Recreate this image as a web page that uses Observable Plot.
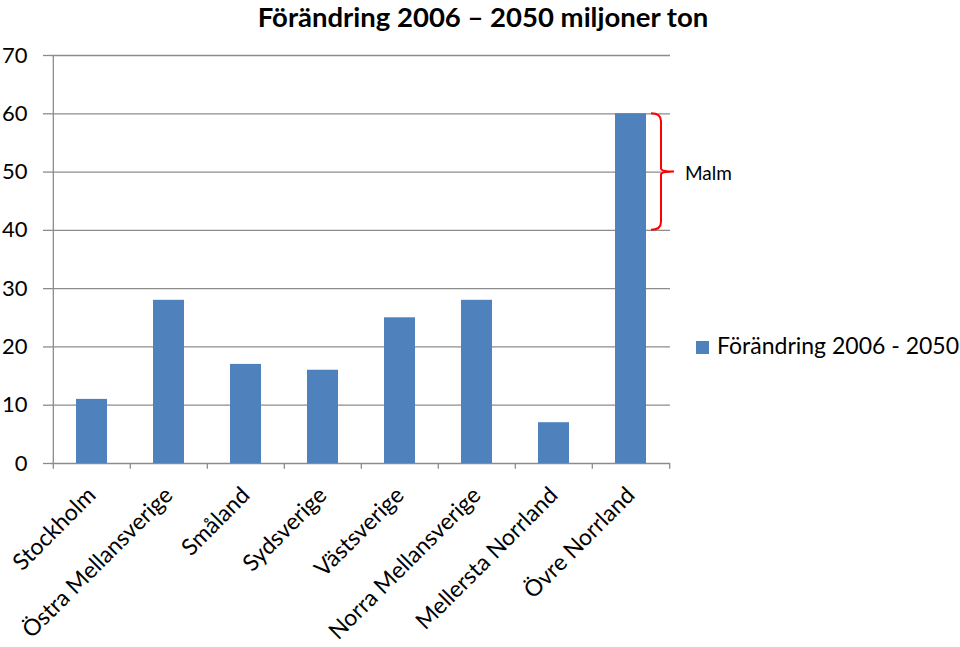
<!DOCTYPE html>
<html><head><meta charset="utf-8">
<script src="https://cdn.jsdelivr.net/npm/d3@7"></script>
<script src="https://cdn.jsdelivr.net/npm/@observablehq/plot@0.6"></script>
<style>
body{margin:0;background:#fff;font-family:Lato,"Open Sans",sans-serif;}
#wrap{position:relative;width:960px;height:647px;overflow:hidden;}
#title{height:34px;line-height:34px;text-align:center;font-weight:bold;font-size:27.5px;color:#000;padding-left:6px;box-sizing:border-box;width:960px;}
#legend{position:absolute;left:696px;top:331px;font-size:23px;line-height:28px;color:#000;white-space:nowrap;}
#legend span.sw{display:inline-block;width:13px;height:13px;background:#4F81BD;margin-right:8px;vertical-align:0px;}
</style></head><body>
<div id="wrap">
<div id="title"></div>
<div id="chart"></div>
<div id="legend"></div>
</div>
<script>
const titleText = "Förändring 2006 – 2050 miljoner ton";
const regions = ["Stockholm","Östra Mellansverige","Småland","Sydsverige","Västsverige","Norra Mellansverige","Mellersta Norrland","Övre Norrland"];
const values = [11, 28, 17, 16, 25, 28, 7, 60];
const yTicks = [0, 10, 20, 30, 40, 50, 60, 70];
const seriesName = "Förändring 2006 - 2050";
const bracketLabel = "Malm";
const bracketRange = [40, 60];
const bracketRegion = "Övre Norrland";

const data = regions.map((r, i) => ({region: r, value: values[i]}));
const W = 960, H = 613, mL = 51, mR = 290, mT = 21, mB = 184;
const halfStep = (W - mL - mR) / regions.length / 2;
const gray = "#8c8c8c";

document.getElementById("title").textContent = titleText;
document.getElementById("legend").innerHTML = '<span class="sw"></span>' + seriesName;

const chart = Plot.plot({
  width: W, height: H, marginLeft: mL, marginRight: mR, marginTop: mT, marginBottom: mB,
  style: {fontFamily: "Lato, 'Open Sans', sans-serif", fontSize: "20px", color: "#000", background: "#fff", overflow: "visible"},
  x: {domain: regions, paddingInner: 0.6, paddingOuter: 0.3, label: null},
  y: {domain: [0, 70], label: null},
  marks: [
    Plot.gridY(yTicks, {stroke: gray, strokeOpacity: 1, strokeWidth: 1.3}),
    Plot.axisY(yTicks, {tickSize: 8, tickPadding: 16, stroke: gray, strokeWidth: 1.3, fill: "#000", fontSize: 22, label: null}),
    Plot.ruleX([regions[0]], {y1: 0, y2: 70, dx: -halfStep, stroke: gray, strokeWidth: 1.3}),
    Plot.ruleX(regions, {y1: 0, y2: -1, dx: -halfStep, stroke: gray, strokeWidth: 1.3}),
    Plot.ruleX([regions[regions.length - 1]], {y1: 0, y2: -1, dx: halfStep, stroke: gray, strokeWidth: 1.3}),
    Plot.barY(data, {x: "region", y: "value", fill: "#4F81BD"}),
    Plot.axisX({tickSize: 0, tickPadding: 28, tickRotate: -45, fontSize: 23, fill: "#000", label: null})
  ]
});
document.getElementById("chart").appendChild(chart);

// Red bracket for "Malm", placed with the chart's own scales
const sx = chart.scale("x"), sy = chart.scale("y");
const xc = sx.apply(bracketRegion) + sx.bandwidth / 2;
const bw = sx.bandwidth;
const x0 = xc + bw / 2 + 5, x1 = xc + bw / 2 + 15, x2 = xc + bw / 2 + 28;
const yTop = sy.apply(bracketRange[1]), yBot = sy.apply(bracketRange[0]);
const yMid = (yTop + yBot) / 2;
const path = `M${x0},${yTop} Q${x1},${yTop} ${x1},${yTop + 8} L${x1},${yMid - 3} Q${x1},${yMid} ${x2},${yMid} Q${x1},${yMid} ${x1},${yMid + 3} L${x1},${yBot - 8} Q${x1},${yBot} ${x0},${yBot}`;
const svg = d3.select(chart);
svg.append("path").attr("d", path).attr("fill", "none").attr("stroke", "#FF0000").attr("stroke-width", 2);
svg.append("text").attr("x", x2 + 11).attr("y", yMid + 4).attr("dominant-baseline", "middle")
  .attr("text-anchor", "start").attr("font-size", 19).attr("fill", "#000").text(bracketLabel);
</script>
</body></html>
